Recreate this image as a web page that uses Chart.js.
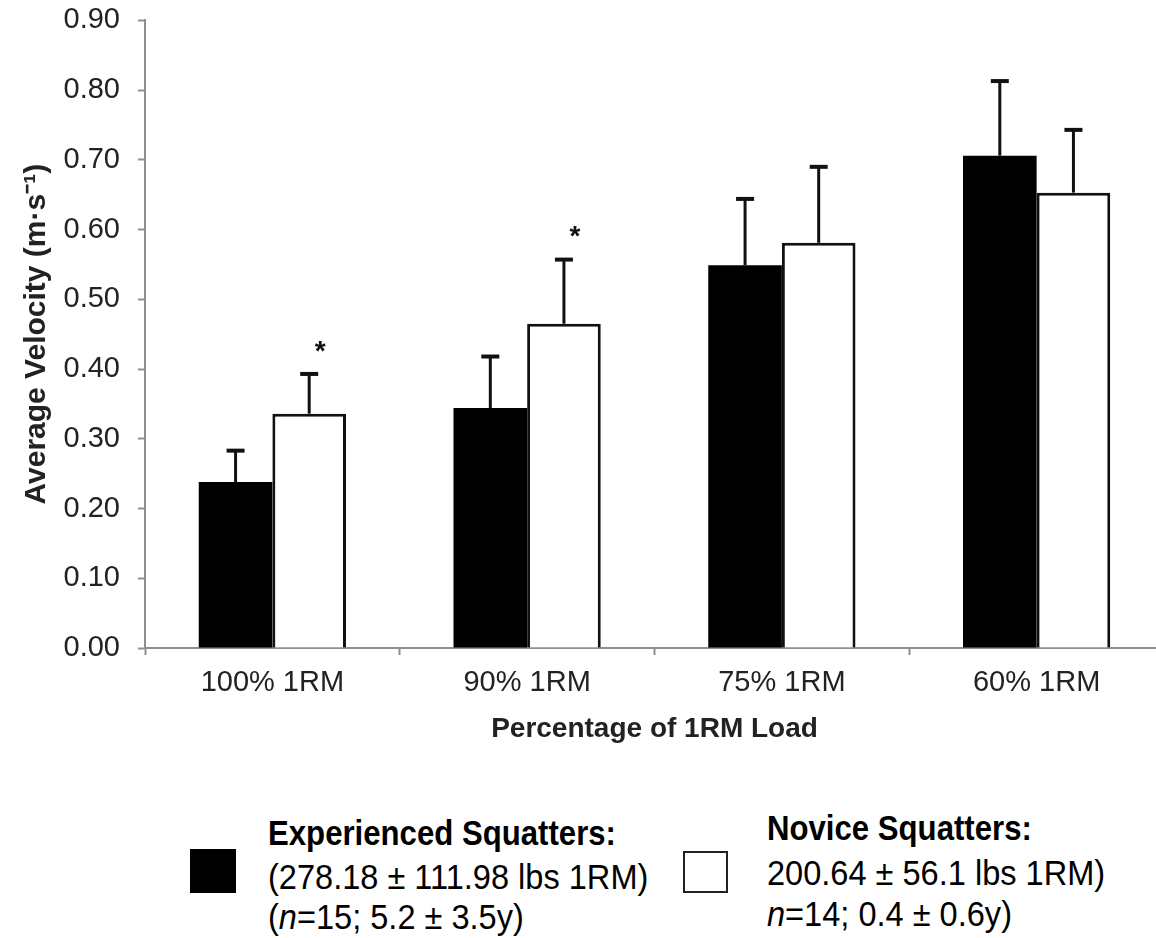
<!DOCTYPE html>
<html lang="en">
<head>
    <meta charset="UTF-8">
    <title>Average velocity by 1RM load</title>
    <style>
        html, body { margin: 0; padding: 0; background: #fff; overflow: hidden; }
        body { width: 1156px; height: 938px; position: relative; }
        #wrap { position: absolute; left: 0; top: -15px; width: 1164px; height: 776px; }
        .sq { position: absolute; box-sizing: border-box; }
        .leg { position: absolute; font-family: "Liberation Sans", Arial, sans-serif;
               font-size: 35px; line-height: 42px; color: #000; white-space: nowrap;
               transform: scaleX(0.93); transform-origin: left center; }
        .leg.b { font-weight: bold; transform: scaleX(0.89); }
    </style>
</head>
<body>
    <div id="wrap"><canvas id="chart" width="1164" height="776"></canvas></div>

    <div class="sq" style="left:190px;top:849px;width:46px;height:44px;background:#000;"></div>
    <div class="leg b" style="left:268px;top:812px;">Experienced Squatters:</div>
    <div class="leg" style="left:268px;top:856px;">(278.18 ± 111.98 lbs 1RM)</div>
    <div class="leg" style="left:268px;top:896px;">(<i>n</i>=15; 5.2 ± 3.5y)</div>

    <div class="sq" style="left:683px;top:851px;width:45px;height:42px;background:#fff;border:2px solid #222;"></div>
    <div class="leg b" style="left:767px;top:807px;">Novice Squatters:</div>
    <div class="leg" style="left:767px;top:852px;">200.64 ± 56.1 lbs 1RM)</div>
    <div class="leg" style="left:767px;top:893px;"><i>n</i>=14; 0.4 ± 0.6y)</div>

    <script src="https://cdn.jsdelivr.net/npm/chart.js@4.4.1/dist/chart.umd.min.js"></script>
    <script>
        const labels = ['100% 1RM', '90% 1RM', '75% 1RM', '60% 1RM']
        const expMean = [0.238, 0.344, 0.549, 0.706]
        const expSD = [0.045, 0.074, 0.095, 0.107]
        const novMean = [0.336, 0.465, 0.581, 0.653]
        const novSD = [0.057, 0.092, 0.109, 0.090]
        const novStars = ['*', '*', '', '']
        const yTicks = [0, 0.1, 0.2, 0.3, 0.4, 0.5, 0.6, 0.7, 0.8, 0.9]

        const axisColor = '#8f8f8f'
        const textColor = '#222'
        const fontFamily = '"Liberation Sans", Arial, sans-serif'

        // upper error bars + significance stars
        const errorBars = {
            id: 'errorBars',
            afterDatasetsDraw(chart){
                const ctx = chart.ctx
                const yScale = chart.scales.y
                chart.data.datasets.forEach((ds, i) => {
                    const meta = chart.getDatasetMeta(i)
                    meta.data.forEach((bar, j) => {
                        const top = yScale.getPixelForValue(ds.data[j] + ds.sd[j])
                        ctx.save()
                        ctx.strokeStyle = '#111'
                        ctx.lineWidth = 3
                        ctx.beginPath()
                        ctx.moveTo(bar.x, bar.y)
                        ctx.lineTo(bar.x, top)
                        ctx.stroke()
                        ctx.lineWidth = 4
                        ctx.beginPath()
                        ctx.moveTo(bar.x - 9, top)
                        ctx.lineTo(bar.x + 9, top)
                        ctx.stroke()
                        if(ds.stars && ds.stars[j]){
                            ctx.fillStyle = '#111'
                            ctx.font = 'bold 28px ' + fontFamily
                            ctx.textAlign = 'center'
                            ctx.textBaseline = 'middle'
                            ctx.fillText(ds.stars[j], bar.x + 11, top - 22)
                        }
                        ctx.restore()
                    })
                })
            }
        }

        new Chart(document.getElementById('chart'), {
            type: 'bar',
            data: {
                labels: labels,
                datasets: [
                    {
                        label: 'Experienced Squatters',
                        data: expMean,
                        sd: expSD,
                        backgroundColor: '#000',
                        borderColor: '#000',
                        borderWidth: 0
                    },
                    {
                        label: 'Novice Squatters',
                        data: novMean,
                        sd: novSD,
                        stars: novStars,
                        backgroundColor: '#fff',
                        borderColor: '#111',
                        borderWidth: 3,
                        borderSkipped: 'bottom'
                    }
                ]
            },
            options: {
                responsive: false,
                animation: false,
                layout: { padding: { top: 3, right: 0, left: 0, bottom: 0 } },
                plugins: {
                    legend: { display: false },
                    tooltip: { enabled: false }
                },
                datasets: {
                    bar: { categoryPercentage: 0.578, barPercentage: 1.0 }
                },
                scales: {
                    x: {
                        offset: true,
                        grid: {
                            offset: true,
                            drawOnChartArea: false,
                            drawTicks: true,
                            tickLength: 7,
                            tickColor: axisColor,
                            tickWidth: 2
                        },
                        border: { color: axisColor, width: 2 },
                        ticks: {
                            color: textColor,
                            padding: 11,
                            font: { family: fontFamily, size: 29 }
                        },
                        title: {
                            display: true,
                            text: 'Percentage of 1RM Load',
                            color: textColor,
                            padding: { top: 4, bottom: 15 },
                            font: { family: fontFamily, size: 28, weight: 'bold' }
                        },
                        afterFit(scale){ scale.height = 113 }
                    },
                    y: {
                        min: 0,
                        max: 0.9,
                        afterBuildTicks(scale){
                            scale.ticks = yTicks.map(v => ({ value: v }))
                        },
                        grid: {
                            drawOnChartArea: false,
                            drawTicks: true,
                            tickLength: 7,
                            tickColor: axisColor,
                            tickWidth: 2
                        },
                        border: { color: axisColor, width: 2 },
                        ticks: {
                            color: textColor,
                            padding: 18,
                            font: { family: fontFamily, size: 29 },
                            callback: v => v.toFixed(2)
                        },
                        title: {
                            display: true,
                            text: 'Average Velocity (m·s⁻¹)',
                            color: textColor,
                            padding: { top: 19, bottom: 0 },
                            font: { family: fontFamily, size: 30, weight: 'bold' }
                        },
                        afterFit(scale){ scale.width = 145 }
                    }
                }
            },
            plugins: [errorBars]
        })
    </script>
</body>
</html>
